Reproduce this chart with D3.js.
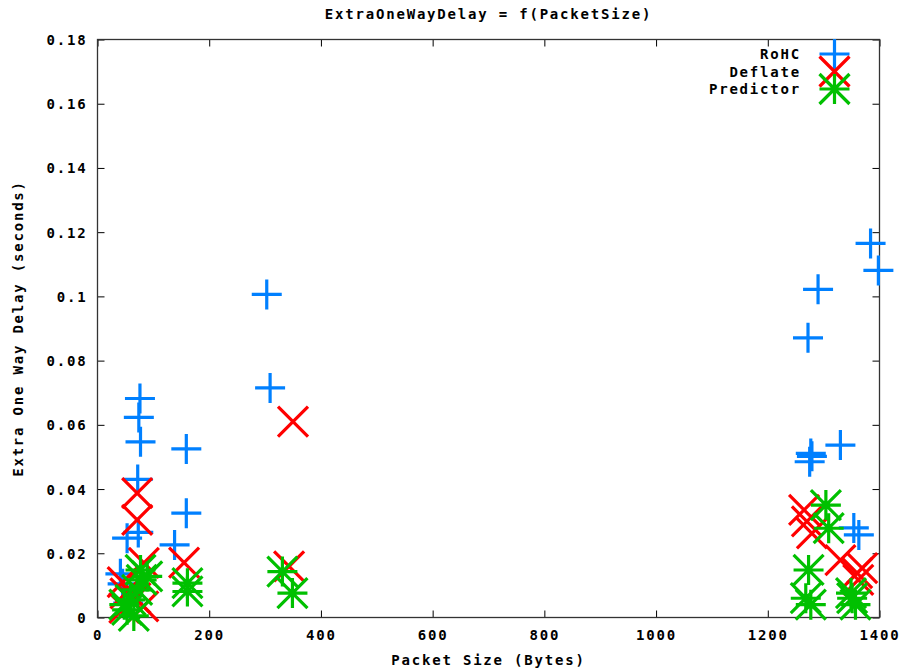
<!DOCTYPE html>
<html>
<head>
<meta charset="utf-8">
<script src="https://cdn.jsdelivr.net/npm/d3@7"></script>
<style>
  html, body { margin: 0; padding: 0; background: #fff; }
  text { font-family: "DejaVu Sans Mono", monospace; font-size: 14px; font-weight: bold; letter-spacing: 1.8px; fill: #000; }
</style>
</head>
<body>
<svg id="chart" width="906" height="671"></svg>
<script>
// ---- Data ----
const seriesNames = ["RoHC", "Deflate", "Predictor"];
const seriesColors = ["#0080ff", "#ff0000", "#00c000"];

const rohcSize  = [1384, 1398, 1290, 1272, 303, 309, 76, 74, 77, 72, 73, 53, 159, 159, 138, 41, 45, 55, 1330, 1277, 1275, 1279, 1354, 1363];
const rohcDelay = [0.1165, 0.1081, 0.1022, 0.0871, 0.1006, 0.0715, 0.0682, 0.0623, 0.0547, 0.0430, 0.0265, 0.0247, 0.0525, 0.0325, 0.0226, 0.0136, 0.0105, 0.0045, 0.0537, 0.0511, 0.0485, 0.0502, 0.0279, 0.0257];

const deflateSize  = [350, 343, 71, 71, 155, 83, 45, 50, 68, 82, 48, 1265, 1270, 1279, 1330, 1360, 1369, 1362];
const deflateDelay = [0.0610, 0.0159, 0.0387, 0.0304, 0.0171, 0.0170, 0.0110, 0.0075, 0.0060, 0.0035, 0.0030, 0.0335, 0.0299, 0.0262, 0.0179, 0.0138, 0.0154, 0.0117];

const predictorSize  = [77, 79, 89, 71, 59, 53, 65, 48, 161, 161, 331, 349, 1304, 1309, 1273, 1268, 1277, 1351, 1357, 1349];
const predictorDelay = [0.0148, 0.0117, 0.0128, 0.0086, 0.0055, 0.0024, 0.0005, 0.0040, 0.0107, 0.0081, 0.0143, 0.0076, 0.0350, 0.0278, 0.0148, 0.0060, 0.0040, 0.0060, 0.0040, 0.0076];

const xTicks = [0, 200, 400, 600, 800, 1000, 1200, 1400];
const yTicks = [0, 0.02, 0.04, 0.06, 0.08, 0.1, 0.12, 0.14, 0.16, 0.18];

const titleText = "ExtraOneWayDelay = f(PacketSize)";
const xLabelText = "Packet Size (Bytes)";
const yLabelText = "Extra One Way Delay (seconds)";

// ---- Layout ----
const mLeft = 97.5, mRight = 879.5, mTop = 39.5, mBottom = 617.5;
const svg = d3.select("#chart");

const x = d3.scaleLinear().domain([0, 1400]).range([mLeft, mRight]);
const y = d3.scaleLinear().domain([0, 0.18]).range([mBottom, mTop]);

const fmtY = d => d === 0 ? "0" : d3.format("~g")(d);

// Axes (ticks inward, mirrored)
const axColor = "#000";
const gB = svg.append("g").attr("transform", `translate(0,${mBottom})`)
  .call(d3.axisBottom(x).tickValues(xTicks).tickSizeInner(-7).tickSizeOuter(0).tickPadding(13).tickFormat(d3.format("d")));
const gT = svg.append("g").attr("transform", `translate(0,${mTop})`)
  .call(d3.axisTop(x).tickValues(xTicks).tickSizeInner(-7).tickSizeOuter(0).tickFormat(""));
const gL = svg.append("g").attr("transform", `translate(${mLeft},0)`)
  .call(d3.axisLeft(y).tickValues(yTicks).tickSizeInner(-7).tickSizeOuter(0).tickPadding(10).tickFormat(fmtY));
const gR = svg.append("g").attr("transform", `translate(${mRight},0)`)
  .call(d3.axisRight(y).tickValues(yTicks).tickSizeInner(-7).tickSizeOuter(0).tickFormat(""));

[gB, gT, gL, gR].forEach(g => {
  g.select(".domain").remove();
  g.selectAll(".tick line").attr("stroke", axColor).attr("stroke-width", 1);
  g.selectAll("text").attr("font-family", null).attr("font-size", null).style("fill", "#000");
});
gL.selectAll(".tick text").attr("dy", "0.36em");

svg.append("rect")
  .attr("x", mLeft).attr("y", mTop)
  .attr("width", mRight - mLeft).attr("height", mBottom - mTop)
  .attr("fill", "none").attr("stroke", "#333").attr("stroke-width", 1.3);

// Titles
svg.append("text").attr("x", (mLeft + mRight) / 2).attr("y", 19).attr("text-anchor", "middle").text(titleText);
svg.append("text").attr("x", (mLeft + mRight) / 2).attr("y", 665).attr("text-anchor", "middle").text(xLabelText);
svg.append("text").attr("transform", `translate(23,${(mTop + mBottom) / 2}) rotate(-90)`).attr("text-anchor", "middle").text(yLabelText);

// Marker generators
const S = 15;
function markerPath(type) {
  const p = d3.path();
  if (type === 0 || type === 2) {
    p.moveTo(-S, 0); p.lineTo(S, 0);
    p.moveTo(0, -S); p.lineTo(0, S);
  }
  if (type === 1 || type === 2) {
    p.moveTo(-S, -S); p.lineTo(S, S);
    p.moveTo(-S, S); p.lineTo(S, -S);
  }
  return p.toString();
}

const series = [
  { size: rohcSize, delay: rohcDelay },
  { size: deflateSize, delay: deflateDelay },
  { size: predictorSize, delay: predictorDelay }
];

series.forEach((s, i) => {
  const pts = s.size.map((v, j) => ({ px: v, d: s.delay[j] }));
  svg.append("g").selectAll("path").data(pts).join("path")
    .attr("transform", d => `translate(${x(d.px)},${y(d.d)})`)
    .attr("d", markerPath(i))
    .attr("fill", "none")
    .attr("stroke", seriesColors[i])
    .attr("stroke-width", 3.2);
});

// Legend
const legY = [54, 71.5, 89];
seriesNames.forEach((name, i) => {
  svg.append("text").attr("x", 801).attr("y", legY[i]).attr("dy", "0.36em")
    .attr("text-anchor", "end").text(name);
  svg.append("path").attr("transform", `translate(834.5,${legY[i]})`)
    .attr("d", markerPath(i)).attr("fill", "none")
    .attr("stroke", seriesColors[i]).attr("stroke-width", 3.2);
});
</script>
</body>
</html>
